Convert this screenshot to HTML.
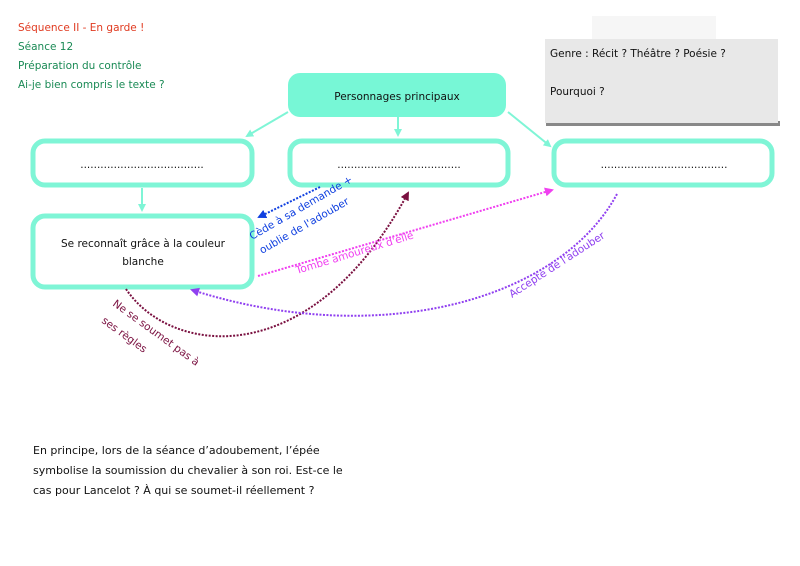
<!DOCTYPE html>
<html><head><meta charset="utf-8"><style>
html,body{margin:0;padding:0;background:#fff;}
svg{display:block;font-family:"DejaVu Sans","Liberation Sans",sans-serif;}
</style></head><body>
<svg width="800" height="566" viewBox="0 0 800 566" xmlns="http://www.w3.org/2000/svg">
<defs>
<marker id="aq" markerWidth="8" markerHeight="8" refX="6" refY="4" orient="auto" markerUnits="userSpaceOnUse"><path d="M0,0 L8,4 L0,8 z" fill="#7ff5d6"/></marker>
<marker id="bl" markerWidth="9" markerHeight="9" refX="7" refY="4.5" orient="auto" markerUnits="userSpaceOnUse"><path d="M0,0 L9,4.5 L0,9 z" fill="#1040e0"/></marker>
<marker id="mr" markerWidth="9" markerHeight="9" refX="7" refY="4.5" orient="auto" markerUnits="userSpaceOnUse"><path d="M0,0 L9,4.5 L0,9 z" fill="#7a1040"/></marker>
<marker id="mg" markerWidth="9" markerHeight="9" refX="7" refY="4.5" orient="auto" markerUnits="userSpaceOnUse"><path d="M0,0 L9,4.5 L0,9 z" fill="#f040f0"/></marker>
<marker id="pu" markerWidth="9" markerHeight="9" refX="7" refY="4.5" orient="auto" markerUnits="userSpaceOnUse"><path d="M0,0 L9,4.5 L0,9 z" fill="#9040f0"/></marker>
</defs>
<g font-size="10.5">
<text x="18" y="31" fill="#e03a20">Séquence II - En garde !</text>
<text x="18" y="50" fill="#1a8a55">Séance 12</text>
<text x="18" y="69" fill="#1a8a55">Préparation du contrôle</text>
<text x="18" y="88" fill="#1a8a55">Ai-je bien compris le texte ?</text>
</g>
<rect x="592" y="16" width="124" height="24" fill="#f6f6f6"/>
<rect x="546" y="121" width="234" height="5" fill="#888"/>
<rect x="545" y="39" width="233" height="84" fill="#e8e8e8"/>
<text x="550" y="57" font-size="10.5" fill="#111">Genre : Récit ? Théâtre ? Poésie ?</text>
<text x="550" y="95" font-size="10.5" fill="#111">Pourquoi ?</text>
<rect x="288" y="73" width="218" height="44" rx="12" fill="#77f7d6"/>
<text x="397" y="100" font-size="10.5" text-anchor="middle" fill="#111">Personnages principaux</text>
<g fill="#fff" stroke="#7ff5d6" stroke-width="5">
<rect x="33" y="141" width="219" height="44" rx="12"/>
<rect x="290" y="141" width="218" height="44" rx="12"/>
<rect x="554" y="141" width="218" height="44" rx="12"/>
<rect x="33" y="216" width="219" height="71" rx="12"/>
</g>
<g font-size="10.5" fill="#111" text-anchor="middle">
<text x="142" y="168">.....................................</text>
<text x="399" y="168">.....................................</text>
<text x="664" y="168">......................................</text>
<text x="143" y="247">Se reconnaît grâce à la couleur</text>
<text x="143" y="265">blanche</text>
</g>
<g stroke="#7ff5d6" stroke-width="2" fill="none">
<line x1="288" y1="112" x2="247" y2="136" marker-end="url(#aq)"/>
<line x1="398" y1="117" x2="398" y2="135" marker-end="url(#aq)"/>
<line x1="508" y1="112" x2="550" y2="146" marker-end="url(#aq)"/>
<line x1="142" y1="188" x2="142" y2="210" marker-end="url(#aq)"/>
</g>
<g fill="none" stroke-width="2" stroke-dasharray="2,1.5">
<line x1="320" y1="187" x2="259" y2="217" stroke="#1040e0" marker-end="url(#bl)"/>
<path d="M126,289 C170,355 310,375 408,193" stroke="#7a1040" marker-end="url(#mr)"/>
<line x1="258" y1="276" x2="552" y2="190" stroke="#f040f0" marker-end="url(#mg)"/>
<path d="M617,194 C560,300 380,350 192,290" stroke="#9040f0" marker-end="url(#pu)"/>
</g>
<g font-size="10.5">
<text transform="translate(252,240) rotate(-30)" fill="#1040e0">Cède à sa demande +</text>
<text transform="translate(262,254) rotate(-30)" fill="#1040e0">oublie de l'adouber</text>
<text transform="translate(297,274) rotate(-17)" fill="#f040f0">Tombe amoureux d'elle</text>
<text transform="translate(512,298) rotate(-33)" fill="#9040f0">Accepte de l'adouber</text>
<text transform="translate(112,305) rotate(36)" fill="#7a1040">Ne se soumet pas à</text>
<text transform="translate(101,322) rotate(36)" fill="#7a1040">ses règles</text>
</g>
<g font-size="11" fill="#111">
<text x="33" y="454">En principe, lors de la séance d’adoubement, l’épée</text>
<text x="33" y="474">symbolise la soumission du chevalier à son roi. Est-ce le</text>
<text x="33" y="494">cas pour Lancelot ? À qui se soumet-il réellement ?</text>
</g>
</svg>
</body></html>
